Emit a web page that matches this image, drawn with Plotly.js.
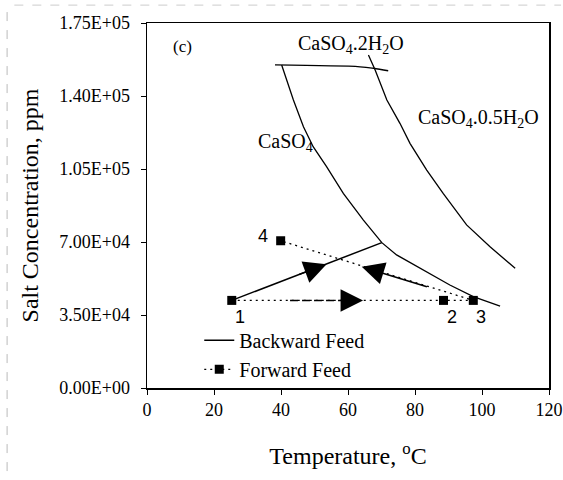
<!DOCTYPE html>
<html>
<head>
<meta charset="utf-8">
<script src="https://cdn.plot.ly/plotly-3.0.1.min.js"></script>
<style>html,body{margin:0;padding:0;background:#fff;}#chart{width:563px;height:480px;}</style>
</head>
<body>
<div id="chart"></div>
<script>
// Solubility boundary curves (Temperature °C, Salt concentration ppm)
const tempCaSO4 = [40.2, 43.7, 46.7, 49.6, 53.6, 57.6, 58.6, 64.6, 70.1, 74.5, 82.5, 90.4, 97.4, 105.4];
const concCaSO4 = [154900, 138100, 125300, 115700, 106100, 95700, 93300, 80500, 69700, 63800, 56600, 49400, 43800, 39300];
const tempHemi = [66.1, 68.1, 71.6, 75.5, 78.5, 83.5, 88.4, 95.4, 102.4, 109.9];
const concHemi = [159700, 152500, 138100, 126900, 117300, 104500, 93300, 78200, 67700, 57400];
const tempGypsum = [38.2, 63.6, 67.6, 72.0];
const concGypsum = [154900, 154000, 153300, 152100];

// Forward feed path (points 1 -> 2 -> 3 -> 4)
const ffTemp = [25.3, 88.5, 97.4, 39.9];
const ffConc = [42000, 42000, 42000, 70600];
const ffLabels = ['1', '2', '3', '4'];

// Backward feed path
const bfTemp = [25.3, 70.1];
const bfConc = [42000, 69700];

// Direction arrows: [tailT, tailC, headT, headC]
const arrowBackward1 = [45.0, 54200, 53.6, 59300];
const arrowBackward2 = [84.0, 48300, 64.1, 58150];
const arrowForwardDashT = [42.7, 60.0];
const arrowForwardDashC = [42000, 42000];
const arrowForwardHead = [58.0, 42000, 64.5, 42000];

// Axis ticks
const yTickVals = [0, 35000, 70000, 105000, 140000, 175000];
const yTickText = ['0.00E+00', '3.50E+04', '7.00E+04', '1.05E+05', '1.40E+05', '1.75E+05'];
const xTickVals = [0, 20, 40, 60, 80, 100, 120];

const serif = 'Liberation Serif, Times New Roman, serif';
const sans = 'Liberation Sans, Arial, sans-serif';
// pixel offsets of point-number labels from their markers (style only)
const labelShift = [[8, -17], [9, -17], [8, -17], [-18, 5]];

const traces = [
  {x: tempCaSO4, y: concCaSO4, mode: 'lines', line: {color: '#000', width: 1.3}, showlegend: false, hoverinfo: 'skip'},
  {x: tempHemi, y: concHemi, mode: 'lines', line: {color: '#000', width: 1.3}, showlegend: false, hoverinfo: 'skip'},
  {x: tempGypsum, y: concGypsum, mode: 'lines', line: {color: '#000', width: 1.3, shape: 'spline'}, showlegend: false, hoverinfo: 'skip'},
  {x: bfTemp, y: bfConc, mode: 'lines', name: 'Backward Feed', line: {color: '#000', width: 1.5}},
  {x: ffTemp, y: ffConc, mode: 'lines+markers', name: 'Forward Feed',
   line: {color: '#000', width: 1.3, dash: '2px,4px'},
   marker: {symbol: 'square', size: 9, color: '#000'}},
  {x: arrowForwardDashT, y: arrowForwardDashC, mode: 'lines', line: {color: '#000', width: 1.5, dash: '8px,4px'}, showlegend: false, hoverinfo: 'skip'}
];

function arrow(a) {
  return {x: a[2], y: a[3], ax: a[0], ay: a[1], xref: 'x', yref: 'y', axref: 'x', ayref: 'y',
    showarrow: true, arrowhead: 2, arrowsize: 3, arrowwidth: 1.5, arrowcolor: '#000', standoff: 0, text: ''};
}

const annotations = [
  arrow(arrowBackward1), arrow(arrowBackward2), arrow(arrowForwardHead),
  {x: 10.7, y: 163500, xref: 'x', yref: 'y', text: '(c)', showarrow: false, font: {family: serif, size: 17, color: '#000'}},
  {x: 61, y: 164500, xref: 'x', yref: 'y', text: 'CaSO<sub>4</sub>.2H<sub>2</sub>O', showarrow: false, font: {family: serif, size: 20, color: '#000'}},
  {x: 98.9, y: 129400, xref: 'x', yref: 'y', text: 'CaSO<sub>4</sub>.0.5H<sub>2</sub>O', showarrow: false, font: {family: serif, size: 20, color: '#000'}},
  {x: 41.2, y: 117900, xref: 'x', yref: 'y', text: 'CaSO<sub>4</sub>', showarrow: false, font: {family: serif, size: 20, color: '#000'}}
];
ffLabels.forEach(function (lab, i) {
  annotations.push({x: ffTemp[i], y: ffConc[i], xref: 'x', yref: 'y', text: lab, showarrow: false,
    xshift: labelShift[i][0], yshift: labelShift[i][1], font: {family: sans, size: 18, color: '#000'}});
});

const layout = {
  width: 563, height: 480,
  margin: {l: 147, r: 14, t: 23, b: 92},
  paper_bgcolor: '#fff', plot_bgcolor: '#fff',
  font: {family: serif, color: '#000'},
  showlegend: true,
  legend: {x: 0.13, y: 0.184, xanchor: 'left', yanchor: 'top', bgcolor: 'rgba(0,0,0,0)',
    font: {family: serif, size: 20, color: '#000'}, tracegroupgap: 0},
  xaxis: {range: [0, 120], tickvals: xTickVals, ticks: 'outside', ticklen: 5, tickwidth: 1, tickcolor: '#000',
    showline: true, linecolor: '#000', linewidth: 1.5, mirror: true, showgrid: false, zeroline: false,
    tickfont: {family: serif, size: 18, color: '#000'},
    title: {text: 'Temperature, <sup>o</sup>C', font: {family: serif, size: 24, color: '#000'}, standoff: 28}},
  yaxis: {range: [0, 175000], tickvals: yTickVals, ticktext: yTickText, ticks: 'outside', ticklen: 5, tickwidth: 1, tickcolor: '#000',
    showline: true, linecolor: '#000', linewidth: 1.5, mirror: true, showgrid: false, zeroline: false,
    ticklabelstandoff: 7,
    tickfont: {family: serif, size: 18, color: '#000'},
    title: {text: 'Salt Concentration, ppm', font: {family: serif, size: 24, color: '#000'}, standoff: 14}},
  annotations: annotations,
  shapes: [
    {type: 'line', xref: 'paper', yref: 'paper', x0: -0.348, x1: -0.348, y0: 1.03, y1: -0.25, line: {color: '#bbb', width: 1, dash: 'dash'}},
    {type: 'line', xref: 'paper', yref: 'paper', x0: -0.33, x1: 1.03, y0: 1.049, y1: 1.049, line: {color: '#ccc', width: 1, dash: 'dash'}}
  ]
};

Plotly.newPlot('chart', traces, layout, {displayModeBar: false, staticPlot: true});
</script>
</body>
</html>
